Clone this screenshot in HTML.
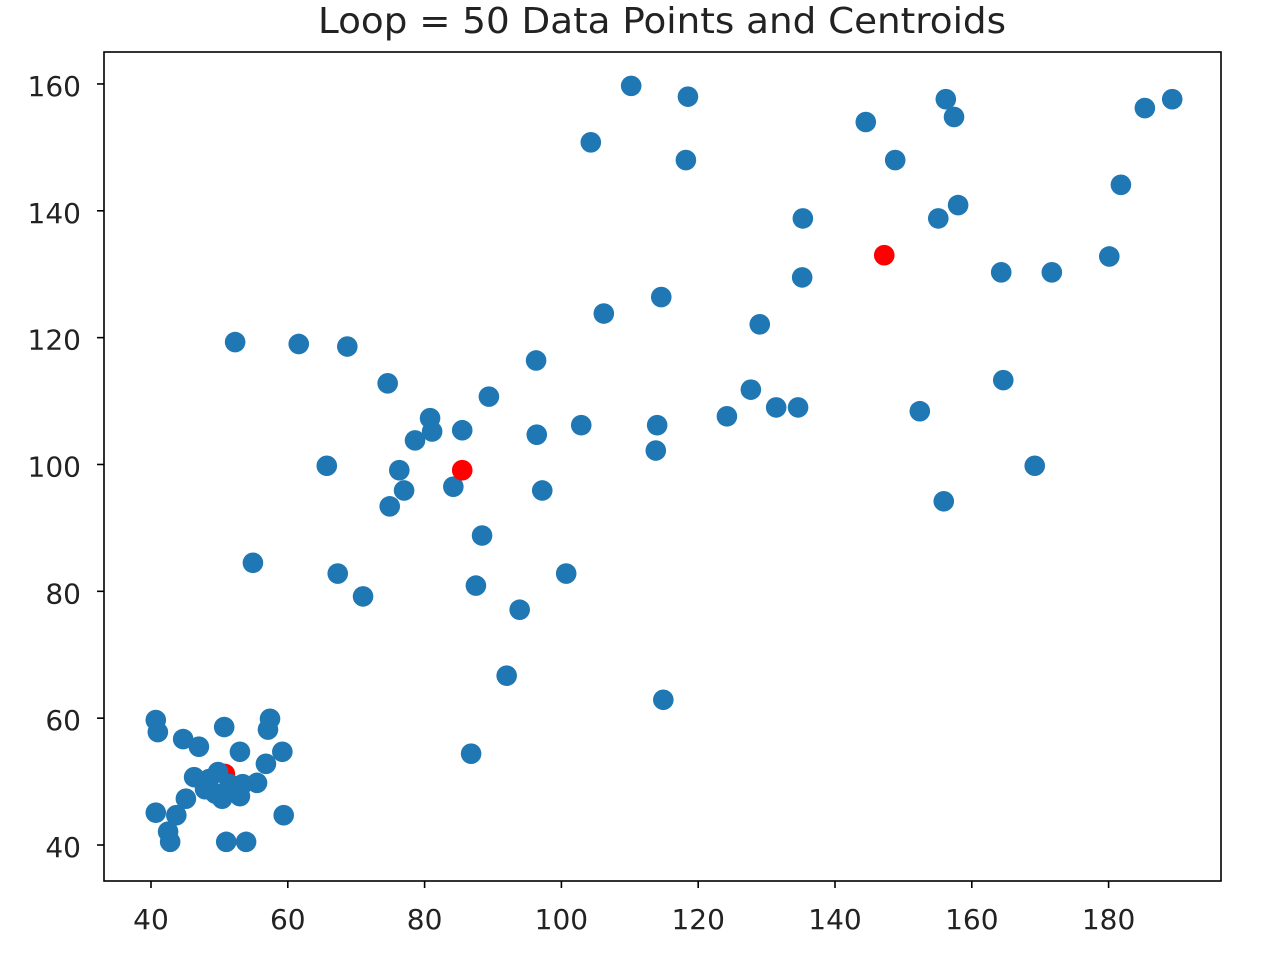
<!DOCTYPE html>
<html><head><meta charset="utf-8"><style>body{margin:0;background:#fff}svg{display:block}text{font-family:"DejaVu Sans","Liberation Sans",sans-serif;fill:#222}</style></head>
<body>
<svg id="chart" width="1270" height="967" xmlns="http://www.w3.org/2000/svg">
<rect width="1270" height="967" fill="#fff"/>
<text x="662" y="33" font-size="36" text-anchor="middle" textLength="688" lengthAdjust="spacingAndGlyphs">Loop = 50 Data Points and Centroids</text>
<g id="marks"></g>
<rect x="104" y="52" width="1117" height="829" fill="none" stroke="#000" stroke-width="1.6"/>
<g id="axes"></g>
</svg>
<script>
const pointsX=[40.7,41.0,44.7,47.0,50.7,57.4,57.1,59.2,53.0,56.8,55.5,46.3,45.1,48.5,49.4,51.5,53.4,53.0,50.4,49.8,40.7,43.7,42.5,42.8,51.0,53.9,59.4,47.9,
52.3,61.6,68.7,74.6,65.7,76.3,77.0,74.9,78.6,80.8,81.1,85.5,84.2,88.4,87.5,67.3,71.0,54.9,93.9,92.0,86.8,114.9,100.7,97.2,96.4,96.3,89.4,102.9,106.2,104.3,110.2,118.5,118.2,114.6,114.0,113.8,124.2,127.7,129.0,131.4,134.6,135.2,135.3,144.5,148.8,156.2,157.4,158.0,155.1,164.3,171.7,180.1,181.8,185.3,189.3,164.6,152.4,155.9,169.2];
const pointsY=[59.7,57.8,56.7,55.5,58.6,59.9,58.2,54.7,54.7,52.8,49.8,50.7,47.3,50.4,48.1,49.6,49.6,47.7,47.3,51.5,45.1,44.7,42.1,40.5,40.5,40.5,44.7,48.8,
119.3,119.0,118.6,112.8,99.8,99.1,95.9,93.4,103.8,107.3,105.2,105.4,96.5,88.8,80.9,82.8,79.2,84.5,77.1,66.7,54.4,62.9,82.8,95.9,104.7,116.4,110.7,106.2,123.8,150.8,159.7,158.0,148.0,126.4,106.2,102.2,107.6,111.8,122.1,109.0,109.0,129.5,138.8,154.0,148.0,157.6,154.8,140.9,138.8,130.3,130.3,132.8,144.1,156.2,157.6,113.3,108.4,94.2,99.8];
const centroidsX=[147.2,85.5,50.8];
const centroidsY=[133.0,99.1,51.2];
const xTicks=[40,60,80,100,120,140,160,180];
const yTicks=[40,60,80,100,120,140,160];
const NS='http://www.w3.org/2000/svg';
function sx(v){return 151+(v-40)*6.84;}
function sy(v){return 845-(v-40)*6.342;}
const marks=document.getElementById('marks');
const axes=document.getElementById('axes');
function circ(x,y,c,name){const e=document.createElementNS(NS,'circle');
e.setAttribute('cx',sx(x));e.setAttribute('cy',sy(y));e.setAttribute('r',10.3);e.setAttribute('fill',c);


marks.appendChild(e);}
circ(centroidsX[2],centroidsY[2],'#ff0000','centroid');
pointsX.forEach((x,i)=>circ(x,pointsY[i],'#1f77b4','data-point'));
for(let i=0;i<2;i++)circ(centroidsX[i],centroidsY[i],'#ff0000','centroid');
function el(tag,attrs,txt){const e=document.createElementNS(NS,tag);for(const k in attrs)e.setAttribute(k,attrs[k]);if(txt!==undefined)e.textContent=txt;axes.appendChild(e);return e;}
xTicks.forEach(t=>{const x=sx(t);
const l=el('line',{x1:x,x2:x,y1:881,y2:888,stroke:'#000','stroke-width':1.6});


const tx=el('text',{x:x,y:929,'font-size':28,'text-anchor':'middle'},t);

});
yTicks.forEach(t=>{const y=sy(t);
const l=el('line',{x1:97,x2:104,y1:y,y2:y,stroke:'#000','stroke-width':1.6});


const tx=el('text',{x:81,y:y+12,'font-size':28,'text-anchor':'end'},t);

});
</script>
</body></html>
